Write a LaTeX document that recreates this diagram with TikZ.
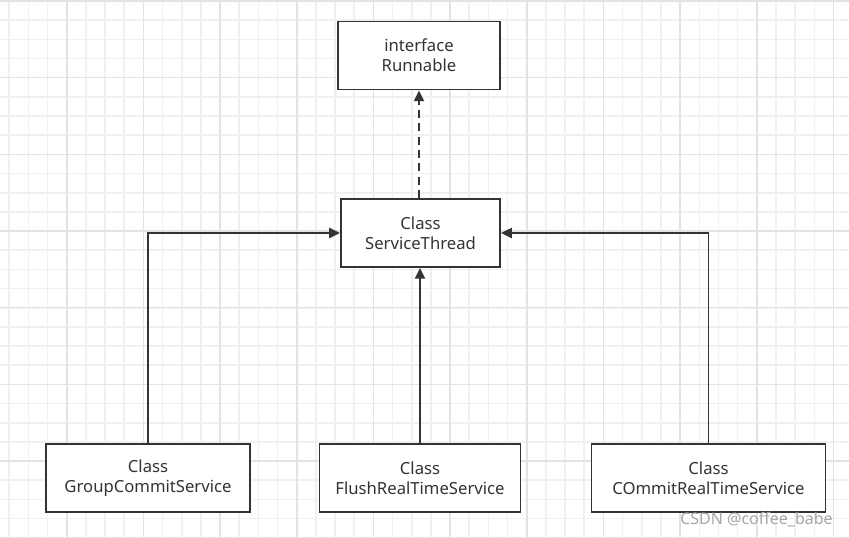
\documentclass[tikz,border=0pt]{standalone}
\usepackage{fontspec}
\setmainfont{Noto Sans}
\usetikzlibrary{arrows.meta}
\definecolor{minorgrid}{HTML}{F0F0F0}
\definecolor{majorgrid}{HTML}{E3E3E3}
\definecolor{boxline}{HTML}{333333}
\definecolor{txt}{HTML}{333333}
\tikzset{
  umlbox/.style={draw=boxline, line width=1.4pt, fill=white, minimum height=51pt, align=center, text=txt, font=\fontsize{12.5pt}{15pt}\selectfont, inner sep=0pt},
  conn/.style={draw=boxline, line width=1.4pt, -{Triangle[length=8pt,width=7.5pt]}},
}
\begin{document}
\begin{tikzpicture}[x=0.75pt,y=-0.75pt]
\useasboundingbox (0,0) rectangle (849,537);
\fill[white] (0,0) rectangle (849,537);
% minor grid
\foreach \i in {-3,...,41} {
  \draw[minorgrid, line width=1.2pt] ({66.7+\i*19.17},0) -- ({66.7+\i*19.17},537);
}
\foreach \j in {-1,...,28} {
  \draw[minorgrid, line width=1.2pt] (0,{1+\j*19.17}) -- (849,{1+\j*19.17});
}
% major grid
\foreach \i in {-1,...,10} {
  \draw[majorgrid, line width=1.2pt] ({66.7+\i*76.67},0) -- ({66.7+\i*76.67},537);
}
\foreach \j in {0,...,7} {
  \draw[majorgrid, line width=1.2pt] (0,{1+\j*76.67}) -- (849,{1+\j*76.67});
}
% boxes
\node[umlbox, minimum width=121.5pt] (run) at (419,55.5) {interface\\Runnable};
\node[umlbox, minimum width=119.5pt] (st) at (420.5,233) {Class\\ServiceThread};
\node[umlbox, minimum width=153pt] (gc) at (148,478) {Class\\GroupCommitService};
\node[umlbox, minimum width=150.75pt] (fr) at (420,478) {Class\\FlushRealTimeService};
\node[umlbox, minimum width=175.5pt] (cr) at (708.5,478) {Class\\COmmitRealTimeService};
% connectors
\draw[conn, dashed, dash pattern=on 6pt off 4pt] (st.north -| run.south) -- (run.south);
\draw[conn] (fr.north) -- (fr.north |- st.south);
\draw[conn] (gc.north) |- (st.west);
\draw[conn] (cr.north) |- (st.east);
% watermark
\node[text=gray!70, font=\fontsize{12pt}{13pt}\selectfont, anchor=east, inner sep=0pt] (wm) at (833,520) {CSDN @coffee\_babe};
\end{tikzpicture}
\end{document}
